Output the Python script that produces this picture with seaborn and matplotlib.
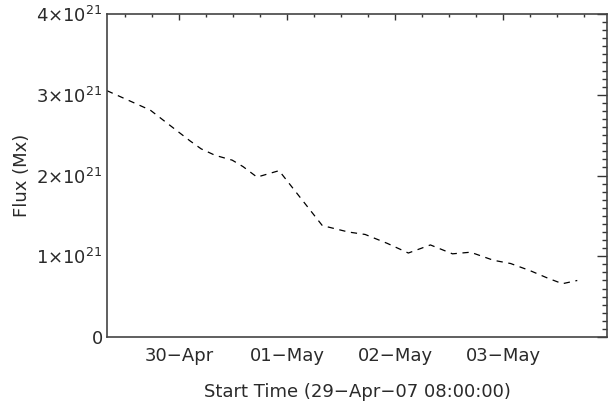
import numpy as np
import pandas as pd
import matplotlib
matplotlib.use("Agg")
import matplotlib.pyplot as plt
import seaborn as sns
from matplotlib.ticker import FixedLocator, MultipleLocator

# hours since 29-Apr-07 08:00:00
hours = [0.0, 9.6, 18.4, 20.9, 24.0, 27.8, 30.2, 33.3, 38.2, 47.8, 53.6, 57.3,
         62.2, 66.9, 71.8, 76.7, 80.7, 85.8, 89.6, 94.0, 97.8, 101.1, 104.4]
# flux in units of 1e21 Mx
flux = [3.05, 2.81, 2.43, 2.33, 2.25, 2.19, 2.11, 1.98, 2.06, 1.38, 1.30, 1.27,
        1.16, 1.04, 1.14, 1.03, 1.05, 0.95, 0.91, 0.82, 0.73, 0.66, 0.70]

day_ticks = [16, 40, 64, 88]
day_labels = ["30\u2212Apr", "01\u2212May", "02\u2212May", "03\u2212May"]
y_ticks = [0, 1, 2, 3, 4]
y_labels = ["0", "1×10$^{21}$", "2×10$^{21}$", "3×10$^{21}$", "4×10$^{21}$"]

sns.set_style("white")
plt.rcParams['font.family'] = ['DejaVu Sans']
plt.rcParams['mathtext.fontset'] = 'dejavusans'

df = pd.DataFrame({"hours": hours, "flux": flux})

fig = plt.figure(figsize=(6.09, 4.08), dpi=100)
ax = fig.add_axes([107 / 609, 71 / 408, 500 / 609, 323 / 408])

sns.lineplot(data=df, x="hours", y="flux", ax=ax, color="black",
             linewidth=0.9, dashes=False)
ax.lines[0].set_dashes((5, 4.5))

ax.set_xlim(0, 111)
ax.set_ylim(0, 4)

ax.xaxis.set_major_locator(FixedLocator(day_ticks))
ax.set_xticklabels(day_labels)
ax.xaxis.set_minor_locator(FixedLocator(np.arange(4, 111, 6)))
ax.yaxis.set_major_locator(FixedLocator(y_ticks))
ax.set_yticklabels(y_labels)
ax.yaxis.set_minor_locator(MultipleLocator(0.1))

ax.tick_params(axis="both", which="both", direction="in", top=True, right=True,
               color="#333333", width=1.0, labelsize=13, labelcolor="#2a2a2a")
ax.tick_params(axis="y", which="major", length=7, pad=3)
ax.tick_params(axis="y", which="minor", length=3.5)
ax.tick_params(axis="x", which="major", length=4, pad=7)
ax.tick_params(axis="x", which="minor", length=2)

for sp in ax.spines.values():
    sp.set_color("#444444")
    sp.set_linewidth(1.2)

ax.set_xlabel("Start Time (29\u2212Apr\u221207 08:00:00)", fontsize=13, labelpad=13,
              color="#2a2a2a")
ax.set_ylabel("Flux (Mx)", fontsize=13, labelpad=4, color="#2a2a2a")

fig.savefig("out.png", dpi=100)
